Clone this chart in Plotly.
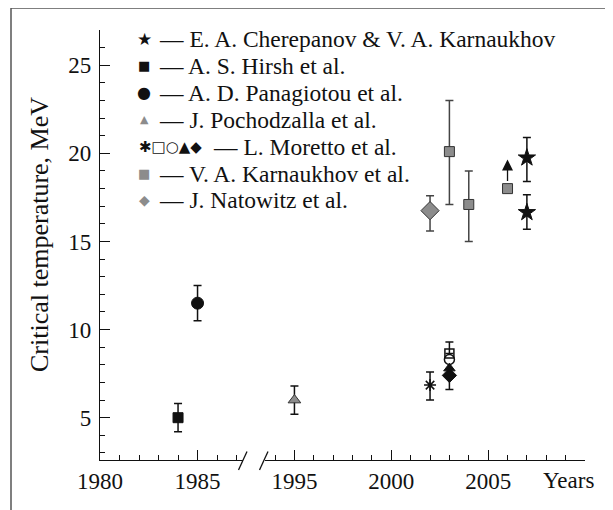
import plotly.graph_objects as go

# values: year, critical temperature (MeV), error up / down
cher_year = [2007, 2007]
cher_t = [19.75, 16.65]
cher_up = [1.15, 1.0]
cher_dn = [1.35, 0.95]

hirsh_year = [1984]
hirsh_t = [5.0]
hirsh_err = [0.8]

pana_year = [1985]
pana_t = [11.5]
pana_err = [1.0]

poch_year = [1995]
poch_t = [6.0]
poch_err = [0.8]

mor_star_year = [2002]
mor_star_t = [6.85]
mor_star_up = [0.75]
mor_star_dn = [0.85]

mor_year = [2003]
mor_square_t = [8.65]
mor_square_up = [0.65]
mor_circle_t = [8.3]
mor_tri_t = [7.8]
mor_diam_t = [7.4]
mor_diam_dn = [0.8]

karn_year = [2003, 2004, 2006]
karn_t = [20.1, 17.1, 18.0]
karn_up = [2.9, 1.9, 0]
karn_dn = [3.0, 2.1, 0]
karn_arrow_year = 2006
karn_arrow = [18.35, 19.65]   # lower limit arrow: tail, tip

nato_year = [2002]
nato_t = [16.75]
nato_up = [0.85]
nato_dn = [1.15]

legend_labels = [
    "E. A. Cherepanov & V. A. Karnaukhov",
    "A. S. Hirsh et al.",
    "A. D. Panagiotou et al.",
    "J. Pochodzalla et al.",
    "L. Moretto et al.",
    "V. A. Karnaukhov et al.",
    "J. Natowitz et al.",
]
GRAY = "#8c8c8c"
legend_symbols = [
    ("★", 17), ("■", 13), ("●", 16),
    ('<span style="color:%s">▲</span>' % GRAY, 11),
    ("✱□○▲◆", 15),
    ('<span style="color:%s">■</span>' % GRAY, 13),
    ('<span style="color:%s">◆</span>' % GRAY, 14),
]

# the page body adds an 8px margin, so the figure is 8px smaller and
# positions below are given in screen pixels
OFF = 8
W, H = 613 - OFF, 510 - OFF
L, R, T, B = 100 - OFF, 28, 30 - OFF, 50
PW, PH = W - L - R, H - T - B


def px(x):
    return (x - 100) / PW


def py(y):
    return (460 - y) / PH


SERIF = "Liberation Serif, Times New Roman, DejaVu Serif, serif"
fig = go.Figure()


def pts(xs, ys, xa, symbol, size, color, lcolor="#111", lw=1, up=None, dn=None, ecolor="#111"):
    err = None
    if up is not None or dn is not None:
        err = dict(type="data", symmetric=False,
                   array=up if up is not None else [0] * len(ys),
                   arrayminus=dn if dn is not None else [0] * len(ys),
                   color=ecolor, thickness=1.5, width=4)
    fig.add_trace(go.Scatter(
        x=xs, y=ys, xaxis=xa, yaxis="y", mode="markers",
        marker=dict(symbol=symbol, size=size, color=color, line=dict(color=lcolor, width=lw)),
        error_y=err, showlegend=False, cliponaxis=False
    ))


pts(hirsh_year, hirsh_t, "x", "square", 10, "#111", up=hirsh_err, dn=hirsh_err)
pts(pana_year, pana_t, "x", "circle", 12, "#111", up=pana_err, dn=pana_err)
pts(poch_year, poch_t, "x2", "triangle-up", 11, GRAY, "#333", up=poch_err, dn=poch_err)
pts(mor_star_year, mor_star_t, "x2", "asterisk-open", 10, "#111", lw=1.5,
    up=mor_star_up, dn=mor_star_dn)
pts(mor_year, mor_diam_t, "x2", "diamond", 11, "#111", dn=mor_diam_dn)
pts(mor_year, mor_tri_t, "x2", "triangle-up", 10, "#111")
pts(mor_year, mor_circle_t, "x2", "circle-open", 10, "#111", lw=1.5)
pts(mor_year, mor_square_t, "x2", "square-open", 9, "#111", lw=1.5, up=mor_square_up)
pts(nato_year, nato_t, "x2", "diamond", 14, GRAY, "#333", up=nato_up, dn=nato_dn, ecolor="#444")
pts(karn_year, karn_t, "x2", "square", 10, GRAY, "#333", up=karn_up, dn=karn_dn, ecolor="#444")
pts(cher_year, cher_t, "x2", "star", 13, "#111", up=cher_up, dn=cher_dn)

# lower-limit arrow on the 2006 point
fig.add_annotation(x=karn_arrow_year, y=karn_arrow[1], ax=karn_arrow_year, ay=karn_arrow[0],
                   xref="x2", yref="y", axref="x2", ayref="y", text="", showarrow=True,
                   arrowhead=2, arrowsize=1.7, arrowwidth=1.3, arrowcolor="#111")

# legend drawn as text
for i, (lab, (sym, ssize)) in enumerate(zip(legend_labels, legend_symbols)):
    yc = 39 + 26.9 * i
    multi = i == 4
    fig.add_annotation(x=px(170 if multi else 144), y=py(yc), xref="paper", yref="paper",
                       text=sym, showarrow=False, xanchor="center", yanchor="middle",
                       font=dict(family="DejaVu Sans", size=ssize, color="#111"))
    fig.add_annotation(x=px(211 if multi else 157), y=py(yc), xref="paper", yref="paper",
                       text="— " + lab, showarrow=False, xanchor="left", yanchor="middle",
                       font=dict(family=SERIF, size=23.5, color="#111"))

# axis titles
fig.add_annotation(x=px(40), y=py(235), xref="paper", yref="paper", text="Critical temperature, MeV",
                   textangle=-90, showarrow=False, xanchor="center", yanchor="middle",
                   font=dict(family=SERIF, size=26, color="#111"))
fig.add_annotation(x=px(541), y=py(480), xref="paper", yref="paper", text="Years",
                   showarrow=False, xanchor="left", yanchor="middle",
                   font=dict(family=SERIF, size=23, color="#111"))

# axis break marks and outer frame
for x0 in (238.5, 259.5):
    fig.add_shape(type="line", xref="paper", yref="paper", x0=px(x0), y0=py(470),
                  x1=px(x0 + 8.5), y1=py(451.5), line=dict(color="#111", width=1.3))
fig.add_shape(type="rect", xref="paper", yref="paper", x0=px(11), y0=py(530),
              x1=px(611), y1=py(8), line=dict(color="#555", width=1.5))

axis_common = dict(showline=True, linecolor="#111", linewidth=1.2, ticks="inside", ticklen=10,
                   tickcolor="#111", showgrid=False, zeroline=False,
                   tickfont=dict(family=SERIF, size=23, color="#111"))
minor = dict(dtick=1, ticks="inside", ticklen=5, tickcolor="#111", showgrid=False)

fig.update_layout(
    width=W, height=H,
    margin=dict(l=L, r=R, t=T, b=B),
    plot_bgcolor="white", paper_bgcolor="white",
    xaxis=dict(domain=[0, 143 / PW], range=[1980, 1987.33], tickvals=[1980, 1985],
               anchor="y", minor=dict(tick0=1980, **minor), **axis_common),
    xaxis2=dict(domain=[165 / PW, 1], range=[1993.48, 2010], tickvals=[1995, 2000, 2005],
                anchor="y", minor=dict(tick0=1990, **minor), **axis_common),
    yaxis=dict(range=[2.6, 27.0], tickvals=[5, 10, 15, 20, 25], anchor="x", ticklabelstandoff=3,
               minor=dict(tick0=0, **minor), **axis_common),
)

fig.write_html("out.html")
